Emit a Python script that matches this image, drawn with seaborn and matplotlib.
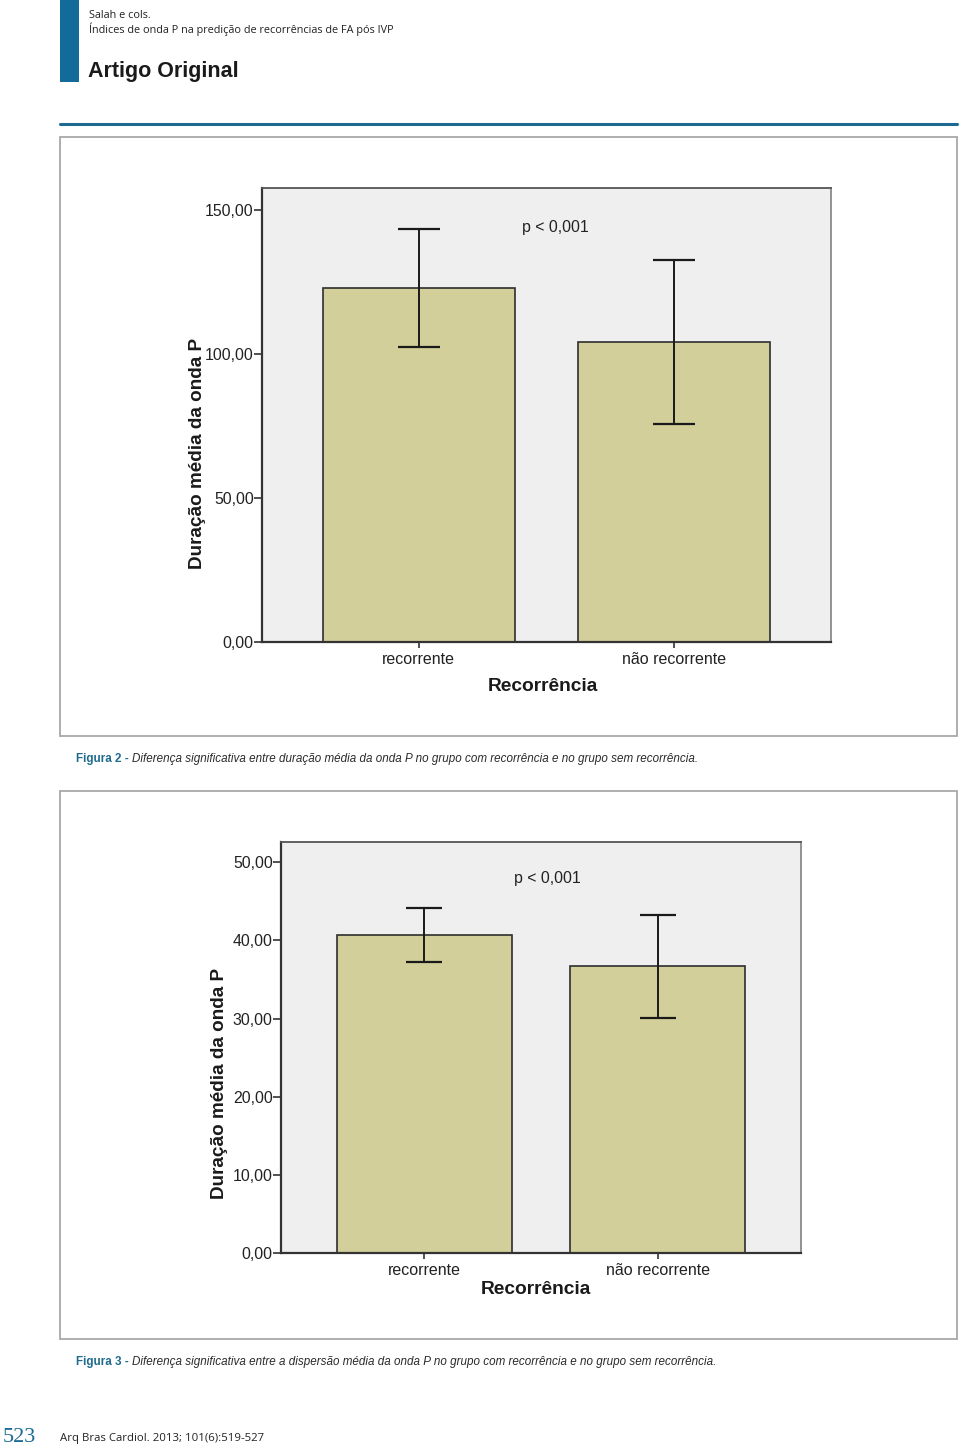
import matplotlib
matplotlib.use("Agg")
import matplotlib.pyplot as plt
import seaborn as sns
import pandas as pd
from matplotlib import font_manager
from matplotlib.patches import Rectangle
from matplotlib.lines import Line2D

# data
groups = ["recorrente", "não recorrente"]
dur_mean = [122.9, 104.2]
dur_err = [20.6, 28.5]
dur_ticks = [0, 50, 100, 150]
disp_mean = [40.7, 36.7]
disp_err = [3.45, 6.6]
disp_ticks = [0, 10, 20, 30, 40, 50]

W, H = 960, 1451
teal = "#1c6a92"
bar_col = "#d3cf9a"

sns.set_theme(style="white")

# narrow font if there is one
try:
    font_manager.findfont("Liberation Sans Narrow", fallback_to_default=False)
    narrow = ["Liberation Sans Narrow", "Liberation Sans", "DejaVu Sans"]
except Exception:
    narrow = ["Liberation Sans", "DejaVu Sans"]
plt.rcParams["font.family"] = ["Liberation Sans", "DejaVu Sans"]

fig = plt.figure(figsize=(W / 100, H / 100), dpi=100)


def px_axes(l, t, r, b):
    return fig.add_axes([l / W, 1 - b / H, (r - l) / W, (b - t) / H])


def ftext(x, y, s, **kw):
    return fig.text(x / W, 1 - y / H, s, **kw)


# header
fig.add_artist(Rectangle((60 / W, 1 - 82 / H), 19 / W, 82 / H, transform=fig.transFigure,
                         color="#136b99", lw=0))
fig.add_artist(Line2D([60 / W, 957 / W], [1 - 124 / H] * 2, transform=fig.transFigure,
                      color=teal, lw=2.2))
ftext(89, 15, "Salah e cols.", fontsize=7.8, family=["Open Sans", "DejaVu Sans"], va="center", color="#222222")
ftext(89, 29, "Índices de onda P na predição de recorrências de FA pós IVP", fontsize=7.8,
      family=["Open Sans", "DejaVu Sans"], va="center", color="#222222")
ftext(88, 71, "Artigo Original", fontsize=15.5, family=narrow, weight="bold", va="center", color="#1a1a1a")

# panel frames
for top, bottom in [(137, 736), (791, 1339)]:
    fig.add_artist(Rectangle((60 / W, 1 - bottom / H), 897 / W, (bottom - top) / H,
                             transform=fig.transFigure, fill=False, ec="#a8a8a8", lw=1.3))


def bar_chart(ax, means, errs, ticks, ymax, capsize, xlab_pos, p_pos):
    df = pd.DataFrame({"Recorrência": groups, "valor": means})
    sns.barplot(data=df, x="Recorrência", y="valor", color=bar_col, saturation=1, width=0.75,
                edgecolor="#2e2e2e", linewidth=1.2, errorbar=None, ax=ax)
    ax.errorbar(x=list(range(len(groups))), y=means, yerr=errs, fmt="none", ecolor="#1a1a1a",
                elinewidth=1.4, capsize=capsize, capthick=1.6, zorder=5)
    ax.set_xlim(-0.613, 1.613)
    ax.set_ylim(0, ymax)
    ax.set_yticks(ticks)
    ax.set_yticklabels([f"{t:.2f}".replace(".", ",") for t in ticks])
    ax.set_facecolor("#efeff0")
    ax.tick_params(axis="y", left=True, length=5.5, width=1.2, pad=0.5, labelsize=11.4,
                   colors="#333333", labelcolor="#222222")
    ax.tick_params(axis="x", bottom=True, length=4.5, width=1.2, pad=2.5, labelsize=11.5,
                   colors="#333333", labelcolor="#222222")
    for s in ["left", "bottom"]:
        ax.spines[s].set_color("#333333")
        ax.spines[s].set_linewidth(1.6)
    ax.spines["top"].set_color("#555555")
    ax.spines["top"].set_linewidth(1.3)
    ax.spines["right"].set_color("#8a8a8a")
    ax.spines["right"].set_linewidth(1.3)
    ax.set_ylabel("")
    ax.set_xlabel("Recorrência", fontsize=13.8, weight="bold", family=narrow, color="#1a1a1a")
    ax.xaxis.set_label_coords(*xlab_pos)
    ax.xaxis.label.set_va("center")
    ax.text(p_pos[0], p_pos[1], "p < 0,001", transform=ax.transAxes, ha="center", va="center",
            fontsize=11.4, color="#222222")


# Figura 2
ax1 = px_axes(262, 188, 831, 642)
bar_chart(ax1, dur_mean, dur_err, dur_ticks, 157.6, 15, (0.494, -0.097), (0.515, 0.914))
ftext(198, 453, "Duração média da onda P", rotation=90, ha="center", va="center", fontsize=13.6,
      weight="bold", family=narrow, color="#1a1a1a")

# Figura 3
ax2 = px_axes(281, 842, 801, 1253)
bar_chart(ax2, disp_mean, disp_err, disp_ticks, 52.6, 13, (0.49, -0.0876), (0.5115, 0.91))
ftext(219, 1083, "Duração média da onda P", rotation=90, ha="center", va="center", fontsize=13.6,
      weight="bold", family=narrow, color="#1a1a1a")

# captions, bold part then italic part
fig.canvas.draw()
renderer = fig.canvas.get_renderer()
captions = [(759, "Figura 2 - ", "Diferença significativa entre duração média da onda P no grupo com recorrência e no grupo sem recorrência."),
            (1362, "Figura 3 - ", "Diferença significativa entre a dispersão média da onda P no grupo com recorrência e no grupo sem recorrência.")]
for y, head, body in captions:
    t = ftext(76, y, head, fontsize=8.4, weight="bold", family=narrow, color="#1f6b8e", va="center")
    w = t.get_window_extent(renderer).width
    ftext(76 + w, y, body, fontsize=8.4, style="italic", family=narrow, color="#2a2a2a", va="center")

# footer
ftext(3, 1437, "523", fontsize=16, family=["Liberation Serif", "DejaVu Serif"], color="#1c6a92", va="center")
ftext(60, 1438, "Arq Bras Cardiol. 2013; 101(6):519-527", fontsize=8.2,
      family=["Open Sans", "DejaVu Sans"], color="#222222", va="center")

fig.savefig("out.png", dpi=100, facecolor="white")
